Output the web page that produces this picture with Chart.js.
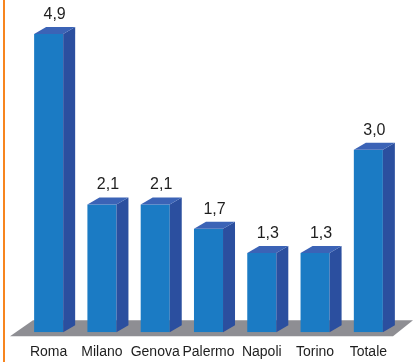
<!DOCTYPE html>
<html>
<head>
<meta charset="utf-8">
<script src="https://cdn.jsdelivr.net/npm/chart.js@4/dist/chart.umd.min.js"></script>
<style>
  html, body { margin: 0; padding: 0; background: #ffffff; }
  canvas { display: block; }
</style>
</head>
<body>
<canvas id="c" width="413" height="362"></canvas>
<script>
const categories = ['Roma', 'Milano', 'Genova', 'Palermo', 'Napoli', 'Torino', 'Totale'];
const values = [4.9, 2.1, 2.1, 1.7, 1.3, 1.3, 3.0];

const FRONT = '#1b7bc4';
const SIDE = '#2b4f9f';
const TOP = '#3b63b6';
const FLOOR = '#8e8e93';
const DX = 12, DY = 7;

function fmt(v) { return v.toFixed(1).replace('.', ','); }

const frame = {
  id: 'frame',
  beforeDraw(chart) {
    const ctx = chart.ctx;
    ctx.save();
    ctx.fillStyle = '#ffffff';
    ctx.fillRect(0, 0, chart.width, chart.height);
    ctx.fillStyle = '#f7851f';
    ctx.fillRect(3, 0, 2, chart.height);
    ctx.restore();
  }
};

const floor = {
  id: 'floor',
  beforeDatasetsDraw(chart) {
    const { ctx, chartArea } = chart;
    const b = chartArea.bottom;
    const l = chartArea.left, r = chartArea.right;
    ctx.save();
    ctx.fillStyle = FLOOR;
    ctx.beginPath();
    ctx.moveTo(l - 12, b + 4);
    ctx.lineTo(l + 11, b - 12);
    ctx.lineTo(r + 18, b - 12);
    ctx.lineTo(r - 2, b + 4);
    ctx.closePath();
    ctx.fill();
    ctx.restore();
  }
};

const bars3d = {
  id: 'bars3d',
  afterDatasetsDraw(chart) {
    const ctx = chart.ctx;
    const meta = chart.getDatasetMeta(0);
    ctx.save();
    meta.data.forEach((bar, i) => {
      const p = bar.getProps(['x', 'y', 'width', 'base'], true);
      const left = p.x - p.width / 2, right = p.x + p.width / 2;
      const top = p.y, base = p.base;
      // side face
      ctx.fillStyle = SIDE;
      ctx.beginPath();
      ctx.moveTo(right, top);
      ctx.lineTo(right + DX, top - DY);
      ctx.lineTo(right + DX, base - DY);
      ctx.lineTo(right, base);
      ctx.closePath();
      ctx.fill();
      // top face
      ctx.fillStyle = TOP;
      ctx.beginPath();
      ctx.moveTo(left, top);
      ctx.lineTo(left + DX, top - DY);
      ctx.lineTo(right + DX, top - DY);
      ctx.lineTo(right, top);
      ctx.closePath();
      ctx.fill();
      // value label
      ctx.fillStyle = '#1e1e1e';
      ctx.font = '16px "Liberation Sans", Arial, sans-serif';
      ctx.textAlign = 'center';
      ctx.textBaseline = 'middle';
      ctx.fillText(fmt(values[i]), p.x + 6, top - DY - 12.5);
    });
    ctx.restore();
  }
};

new Chart(document.getElementById('c'), {
  type: 'bar',
  data: {
    labels: categories,
    datasets: [{
      data: values,
      backgroundColor: FRONT,
      borderWidth: 0,
      barPercentage: 0.545,
      categoryPercentage: 1
    }]
  },
  options: {
    responsive: false,
    animation: false,
    devicePixelRatio: 1,
    layout: { padding: { left: 22, right: 18, top: 0, bottom: -11 } },
    plugins: { legend: { display: false }, tooltip: { enabled: false } },
    scales: {
      x: {
        grid: { display: false, drawTicks: false },
        border: { display: false },
        ticks: {
          padding: 12,
          color: '#1e1e1e',
          font: { family: '"Liberation Sans", Arial, sans-serif', size: 14 },
          maxRotation: 0,
          autoSkip: false
        }
      },
      y: { display: false, min: 0, max: 5.46 }
    }
  },
  plugins: [frame, floor, bars3d]
});
</script>
</body>
</html>
